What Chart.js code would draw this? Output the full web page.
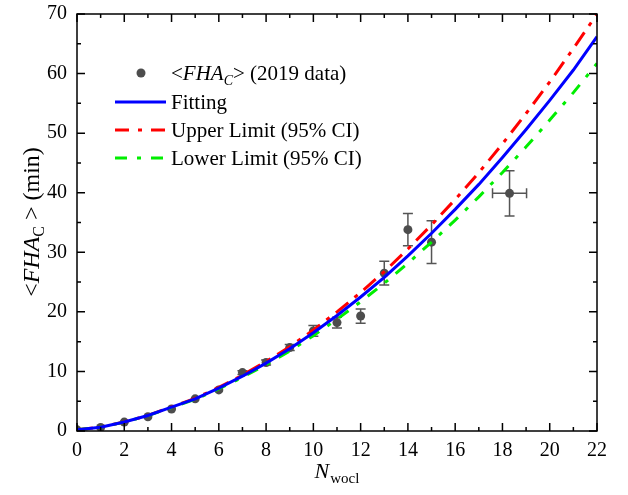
<!DOCTYPE html>
<html>
  <head>
    <title>FHA_C vs N_wocl</title>
    <script src="https://cdn.jsdelivr.net/npm/chart.js"></script>
    <style>
      body { margin: 0; background: #fff; }
      #wrap { width: 628px; height: 495px; position: relative; }
    </style>
  </head>
  <body>
    <div id="wrap"><canvas id="fhaChart"></canvas></div>
    <script>
  // measured <FHA_C> (2019 data)
  const nWocl = [0, 1, 2, 3, 4, 5, 6, 7, 8, 9, 10, 11, 12, 13, 14, 15, 18.3];
  const fhaMean = [0.2, 0.6, 1.5, 2.4, 3.7, 5.4, 6.9, 9.8, 11.5, 14.0, 16.8, 18.2, 19.3, 26.5, 33.8, 31.7, 39.9];
  const fhaErrY = [0, 0, 0, 0, 0, 0, 0, 0.3, 0.4, 0.5, 0.9, 0.9, 1.2, 2.0, 2.7, 3.6, 3.8];
  const fhaErrX = [0, 0, 0, 0, 0, 0, 0, 0, 0, 0, 0, 0, 0, 0, 0, 0, 0.72];

  // curves
  const curveX = [0, 1, 2, 3, 4, 5, 6, 7, 8, 9, 10, 11, 12, 13, 14, 15, 16, 17, 18, 19, 20, 21, 22];
  const fitting = [0.2, 0.64, 1.5, 2.6, 4.0, 5.4, 7.2, 9.2, 11.4, 13.8, 16.5, 19.4, 22.5, 25.8, 29.4, 33.2, 37.2, 41.4, 45.9, 50.6, 55.5, 60.6, 66.2];
  const upper = [0.2, 0.64, 1.51, 2.62, 4.04, 5.48, 7.32, 9.38, 11.66, 14.15, 16.96, 20.0, 23.26, 26.74, 30.55, 34.6, 38.87, 43.37, 48.2, 53.3, 58.6, 64.2, 70.0];
  const lower = [0.2, 0.64, 1.49, 2.58, 3.95, 5.32, 7.07, 9.01, 11.13, 13.43, 16.0, 18.76, 21.69, 24.79, 28.17, 31.7, 35.4, 39.3, 43.4, 47.7, 52.2, 56.8, 61.7];

  const xTicks = [0, 2, 4, 6, 8, 10, 12, 14, 16, 18, 20, 22];
  const yTicks = [0, 10, 20, 30, 40, 50, 60, 70];

  const SERIF = '"Liberation Serif", "Times New Roman", serif';
  const pts = (xs, ys) => xs.map((x, i) => ({ x: x, y: ys[i] }));

  // text made of runs: plain / italic / subscript
  function drawRuns(ctx, runs, x, y) {
    let cx = x;
    runs.forEach(r => {
      ctx.font = r.font;
      ctx.fillText(r.t, cx, y + (r.dy || 0));
      cx += ctx.measureText(r.t).width + (r.kern || 0);
    });
    return cx - x;
  }
  function runsWidth(ctx, runs) {
    let w = 0;
    runs.forEach(r => { ctx.font = r.font; w += ctx.measureText(r.t).width + (r.kern || 0); });
    return w;
  }

  const errorBars = {
    id: 'errorBars',
    beforeDatasetsDraw(chart) {
      const { ctx, scales: { x, y } } = chart;
      ctx.save();
      ctx.strokeStyle = '#555555';
      ctx.lineWidth = 1.5;
      nWocl.forEach((n, i) => {
        const px = x.getPixelForValue(n);
        const py = y.getPixelForValue(fhaMean[i]);
        if (fhaErrY[i] > 0) {
          const t = y.getPixelForValue(fhaMean[i] + fhaErrY[i]);
          const b = y.getPixelForValue(fhaMean[i] - fhaErrY[i]);
          ctx.beginPath();
          ctx.moveTo(px, t); ctx.lineTo(px, b);
          ctx.moveTo(px - 5, t); ctx.lineTo(px + 5, t);
          ctx.moveTo(px - 5, b); ctx.lineTo(px + 5, b);
          ctx.stroke();
        }
        if (fhaErrX[i] > 0) {
          const l = x.getPixelForValue(n - fhaErrX[i]);
          const r = x.getPixelForValue(n + fhaErrX[i]);
          ctx.beginPath();
          ctx.moveTo(l, py); ctx.lineTo(r, py);
          ctx.moveTo(l, py - 5); ctx.lineTo(l, py + 5);
          ctx.moveTo(r, py - 5); ctx.lineTo(r, py + 5);
          ctx.stroke();
        }
      });
      ctx.restore();
    }
  };

  const frameAndText = {
    id: 'frameAndText',
    afterDraw(chart) {
      const { ctx, chartArea: a, scales: { x, y } } = chart;
      ctx.save();
      // box
      ctx.strokeStyle = '#000';
      ctx.lineWidth = 1.5;
      ctx.strokeRect(a.left, a.top, a.right - a.left, a.bottom - a.top);
      // inward ticks on all four sides
      ctx.beginPath();
      for (let v = 0; v <= 22; v++) {
        const len = v % 2 === 0 ? 8 : 4;
        const px = x.getPixelForValue(v);
        ctx.moveTo(px, a.bottom); ctx.lineTo(px, a.bottom - len);
        ctx.moveTo(px, a.top); ctx.lineTo(px, a.top + len);
      }
      for (let v = 0; v <= 70; v += 5) {
        const len = v % 10 === 0 ? 8 : 4;
        const py = y.getPixelForValue(v);
        ctx.moveTo(a.left, py); ctx.lineTo(a.left + len, py);
        ctx.moveTo(a.right, py); ctx.lineTo(a.right - len, py);
      }
      ctx.stroke();

      ctx.fillStyle = '#000';
      ctx.textBaseline = 'alphabetic';
      const f = (s, it) => (it ? 'italic ' : '') + s + 'px ' + SERIF;

      // x title
      const xRuns = [{ t: 'N', font: f(22, true), kern: 1 }, { t: 'wocl', font: f(15), dy: 5 }];
      const xw = runsWidth(ctx, xRuns);
      drawRuns(ctx, xRuns, (a.left + a.right) / 2 - xw / 2, 478);

      // y title (rotated)
      const yRuns = [
        { t: '<', font: f(24) },
        { t: 'FHA', font: f(24, true) },
        { t: 'C', font: f(16), dy: 5 },
        { t: ' > (min)', font: f(24) }
      ];
      const yw = runsWidth(ctx, yRuns);
      ctx.save();
      ctx.translate(39, 222);
      ctx.rotate(-Math.PI / 2);
      drawRuns(ctx, yRuns, -yw / 2, 0);
      ctx.restore();

      // legend
      const lx0 = 115, lx1 = 166, tx = 171;
      const rows = [73, 102, 130, 158];
      ctx.fillStyle = '#4d4d4d';
      ctx.beginPath();
      ctx.arc(141, rows[0], 4.5, 0, Math.PI * 2);
      ctx.fill();
      const seg = (yy, color, dash) => {
        ctx.save();
        ctx.strokeStyle = color;
        ctx.lineWidth = 3;
        ctx.setLineDash(dash);
        ctx.beginPath();
        ctx.moveTo(lx0, yy); ctx.lineTo(lx1, yy);
        ctx.stroke();
        ctx.restore();
      };
      seg(rows[1], '#0000ff', []);
      seg(rows[2], '#ff0000', [14, 9, 4, 9]);
      seg(rows[3], '#00ee00', [12, 10, 4, 10]);

      ctx.fillStyle = '#000';
      const base = 7;
      drawRuns(ctx, [
        { t: '<', font: f(21) },
        { t: 'FHA', font: f(21, true) },
        { t: 'C', font: f(14, true), dy: 5 },
        { t: '> (2019 data)', font: f(21) }
      ], tx, rows[0] + base);
      drawRuns(ctx, [{ t: 'Fitting', font: f(21) }], tx, rows[1] + base);
      drawRuns(ctx, [{ t: 'Upper Limit (95% CI)', font: f(21) }], tx, rows[2] + base);
      drawRuns(ctx, [{ t: 'Lower Limit (95% CI)', font: f(21) }], tx, rows[3] + base);
      ctx.restore();
    }
  };

  new Chart(document.getElementById('fhaChart'), {
    type: 'scatter',
    data: {
      datasets: [
        {
          label: 'Fitting',
          data: pts(curveX, fitting),
          showLine: true,
          borderColor: '#0000ff',
          borderWidth: 3,
          pointRadius: 0,
          order: 0
        },
        {
          label: 'Lower Limit (95% CI)',
          data: pts(curveX, lower),
          showLine: true,
          borderColor: '#00ee00',
          borderWidth: 3,
          borderDash: [12, 10, 4, 10],
          pointRadius: 0,
          order: 1
        },
        {
          label: 'Upper Limit (95% CI)',
          data: pts(curveX, upper),
          showLine: true,
          borderColor: '#ff0000',
          borderWidth: 3,
          borderDash: [16, 8, 4, 8],
          pointRadius: 0,
          order: 2
        },
        {
          label: '<FHA_C> (2019 data)',
          data: pts(nWocl, fhaMean),
          pointRadius: 4.5,
          pointBackgroundColor: '#4d4d4d',
          pointBorderWidth: 0,
          order: 3
        }
      ]
    },
    options: {
      responsive: true,
      maintainAspectRatio: false,
      animation: false,
      layout: { padding: { left: 0, right: 31, top: 13, bottom: 0 } },
      plugins: { legend: { display: false }, tooltip: { enabled: false } },
      scales: {
        x: {
          type: 'linear',
          min: 0,
          max: 22,
          afterFit: s => { s.height = 64; },
          afterBuildTicks: s => { s.ticks = xTicks.map(v => ({ value: v })); },
          grid: { display: false },
          border: { display: false },
          ticks: { color: '#000', padding: 0, maxRotation: 0, font: { family: SERIF, size: 20 } }
        },
        y: {
          type: 'linear',
          min: 0,
          max: 70,
          afterFit: s => { s.width = 77; },
          afterBuildTicks: s => { s.ticks = yTicks.map(v => ({ value: v })); },
          grid: { display: false },
          border: { display: false },
          ticks: { color: '#000', padding: 2, font: { family: SERIF, size: 20 } }
        }
      }
    },
    plugins: [errorBars, frameAndText]
  });
</script>
  </body>
</html>
